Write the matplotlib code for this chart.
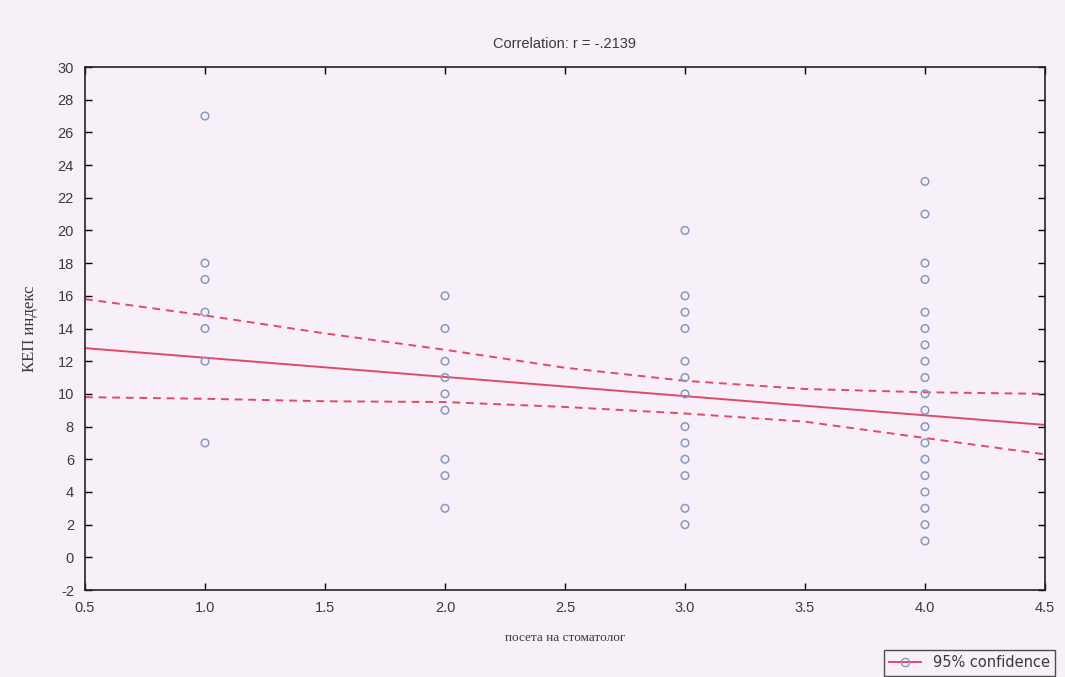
import matplotlib
matplotlib.use("Agg")
import matplotlib.pyplot as plt
import numpy as np
from matplotlib.lines import Line2D

# visits to dentist (x) vs KEP index (y)
visits_1 = [27, 18, 17, 15, 14, 12, 7]
visits_2 = [16, 14, 12, 11, 10, 9, 6, 5, 3]
visits_3 = [20, 16, 15, 14, 12, 11, 10, 8, 7, 6, 5, 3, 2]
visits_4 = [23, 21, 18, 17, 15, 14, 13, 12, 11, 10, 9, 8, 7, 6, 5, 4, 3, 2, 1]
groups = [1.0, 2.0, 3.0, 4.0]

# regression line and 95% band
fit_x = [0.5, 4.5]
fit_y = [12.8, 8.1]
band_x = [0.5, 1.0, 1.5, 2.0, 2.5, 3.0, 3.5, 4.0, 4.5]
band_upper = [15.8, 14.8, 13.7, 12.7, 11.6, 10.8, 10.3, 10.1, 10.0]
band_lower = [9.8, 9.7, 9.55, 9.5, 9.2, 8.8, 8.3, 7.3, 6.3]

x_ticks = [0.5, 1.0, 1.5, 2.0, 2.5, 3.0, 3.5, 4.0, 4.5]
y_ticks = list(range(-2, 31, 2))

title = "Correlation: r = -.2139"

BG = "#f8f0f8"
PT = "#8799be"
RED = "#e04a68"
TXT = "#3a3a3a"

x = np.concatenate([[g] * len(v) for g, v in zip(groups, [visits_1, visits_2, visits_3, visits_4])])
y = np.concatenate([visits_1, visits_2, visits_3, visits_4])

fig = plt.figure(figsize=(10.65, 6.77), dpi=100, facecolor=BG)
ax = fig.add_axes([0.0798, 0.1285, 0.9014, 0.7725], facecolor=BG)

ax.plot(fit_x, fit_y, color=RED, lw=1.4, zorder=2)
ax.plot(band_x, band_upper, color=RED, lw=1.4, ls=(0, (4, 3)), zorder=2)
ax.plot(band_x, band_lower, color=RED, lw=1.4, ls=(0, (4, 3)), zorder=2)

ax.scatter(x, y, s=30, facecolors="none", edgecolors=PT, linewidths=1.1, zorder=3)

ax.set_xlim(0.5, 4.5)
ax.set_ylim(-2, 30)
ax.set_xticks(x_ticks)
ax.set_xticklabels([f"{v:.1f}" for v in x_ticks], family="Liberation Sans")
ax.set_yticks(y_ticks)
ax.set_yticklabels([str(v) for v in y_ticks], family="Liberation Sans")
ax.tick_params(direction="in", top=True, right=True, length=5, width=1,
               labelsize=10.5, labelcolor=TXT, pad=8)
for sp in ax.spines.values():
    sp.set_color("#222222")
    sp.set_linewidth(1.2)

ax.set_title(title, fontsize=10.5, color=TXT, pad=14, family="Liberation Sans")
ax.set_ylabel("КЕП индекс", fontsize=12, family="Liberation Serif", color=TXT, labelpad=14)
ax.set_xlabel("посета на стоматолог", fontsize=9.5, family="Liberation Serif", color=TXT, labelpad=12)

handle = Line2D([], [], color=RED, lw=1.4, marker="o", markerfacecolor="none",
                markeredgecolor=PT, markersize=6)
fig.legend([handle], ["95% confidence"], loc="upper right",
           bbox_to_anchor=(1062 / 1065, 1 - 643 / 677), fontsize=10.5,
           frameon=True, fancybox=False, edgecolor="#222222", facecolor=BG,
           handlelength=2.2, borderpad=0.35, labelcolor=TXT)

fig.savefig("out.png", dpi=100, facecolor=BG)
